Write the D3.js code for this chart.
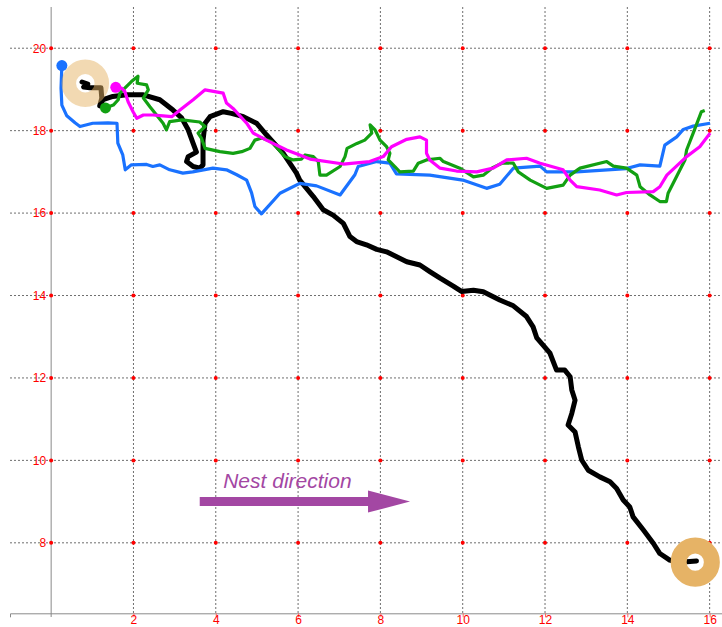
<!DOCTYPE html>
<html>
<head>
<meta charset="utf-8">
<script src="https://d3js.org/d3.v7.min.js"></script>
<style>
  body { margin: 0; background: #fff; }
  svg { display: block; font-family: "Liberation Sans", Arial, sans-serif; }
</style>
</head>
<body>
<div id="chart"></div>
<script>
// tick values
const xTicks = [2, 4, 6, 8, 10, 12, 14, 16];
const yTicks = [8, 10, 12, 14, 16, 18, 20];

// tracks, [x, y] in plot units
const blueTrack = [
  [0.26, 19.58], [0.24, 19.03], [0.26, 18.62], [0.38, 18.36], [0.58, 18.19], [0.70, 18.10],
  [1.01, 18.18], [1.38, 18.19], [1.60, 18.18], [1.62, 17.70], [1.74, 17.41], [1.80, 17.05],
  [1.95, 17.17], [2.32, 17.18], [2.47, 17.13], [2.64, 17.17], [2.88, 17.05], [3.20, 16.97],
  [3.44, 17.00], [3.93, 17.09], [4.26, 17.05], [4.51, 16.93], [4.75, 16.80], [4.87, 16.49],
  [4.95, 16.16], [5.11, 15.98], [5.56, 16.48], [6.04, 16.72], [6.45, 16.66], [7.02, 16.44],
  [7.38, 16.93], [7.46, 17.13], [7.91, 17.25], [8.23, 17.21], [8.39, 16.95], [9.20, 16.92],
  [10.0, 16.80], [10.58, 16.60], [10.90, 16.70], [11.23, 17.09], [11.88, 17.14], [12.04, 17.00],
  [12.77, 17.00], [13.98, 17.08], [14.31, 17.17], [14.79, 17.14], [14.91, 17.65], [15.20, 17.85],
  [15.36, 18.03], [15.60, 18.11], [16.01, 18.18]
];

const magentaTrack = [
  [1.57, 19.05], [1.71, 19.03], [1.79, 18.95], [1.87, 18.70], [1.99, 18.46], [2.08, 18.30],
  [2.24, 18.38], [2.48, 18.38], [2.72, 18.36], [2.93, 18.34], [3.13, 18.50], [3.45, 18.75],
  [3.74, 18.99], [4.18, 18.91], [4.26, 18.67], [4.42, 18.54], [4.75, 18.18], [4.91, 17.94],
  [5.23, 17.77], [5.72, 17.53], [6.29, 17.31], [7.10, 17.19], [7.74, 17.25], [8.07, 17.37],
  [8.27, 17.61], [8.64, 17.79], [8.96, 17.85], [9.12, 17.77], [9.12, 17.45], [9.20, 17.29],
  [9.45, 17.09], [9.85, 17.02], [10.34, 17.00], [10.74, 17.09], [11.07, 17.29], [11.55, 17.33],
  [11.88, 17.21], [12.44, 17.05], [12.61, 16.80], [12.77, 16.64], [13.33, 16.56], [13.74, 16.44],
  [13.98, 16.50], [14.63, 16.52], [14.79, 16.64], [14.96, 16.92], [15.44, 17.37], [15.76, 17.61],
  [16.01, 17.94]
];

const greenTrack = [
  [1.32, 18.55], [1.51, 18.62], [1.63, 18.75], [1.67, 18.91], [1.79, 19.03], [1.95, 19.19],
  [2.11, 19.32], [2.09, 19.15], [2.32, 19.11], [2.36, 18.99], [2.24, 18.79], [2.40, 18.58],
  [2.56, 18.38], [2.72, 18.18], [2.80, 18.02], [2.88, 18.22], [3.18, 18.26], [3.61, 18.21],
  [3.74, 18.10], [3.57, 17.94], [3.65, 17.82], [3.74, 17.57], [4.10, 17.49], [4.42, 17.45],
  [4.63, 17.49], [4.83, 17.57], [4.95, 17.77], [5.12, 17.82], [5.36, 17.73], [5.68, 17.37],
  [5.88, 17.29], [6.08, 17.31], [6.17, 17.41], [6.37, 17.37], [6.49, 17.25], [6.53, 16.92],
  [6.69, 16.92], [7.02, 17.13], [7.14, 17.37], [7.19, 17.57], [7.43, 17.69], [7.62, 17.77],
  [7.79, 17.94], [7.75, 18.14], [7.87, 18.02], [7.99, 17.77], [8.15, 17.61], [8.23, 17.45],
  [8.19, 17.29], [8.35, 17.13], [8.47, 17.00], [8.80, 17.02], [8.92, 17.21], [9.12, 17.29],
  [9.45, 17.33], [9.53, 17.25], [9.93, 17.09], [10.26, 16.88], [10.50, 16.92], [10.74, 17.11],
  [10.98, 17.22], [11.23, 17.21], [11.35, 17.00], [11.64, 16.80], [12.04, 16.60], [12.44, 16.68],
  [12.61, 16.92], [12.85, 17.09], [13.50, 17.25], [13.66, 17.14], [13.98, 17.09], [14.23, 16.92],
  [14.31, 16.64], [14.55, 16.44], [14.79, 16.28], [14.95, 16.28], [14.99, 16.48], [15.40, 17.29],
  [15.44, 17.53], [15.60, 17.94], [15.80, 18.46], [15.88, 18.49]
];

const blackTrack = [
  [0.75, 19.18], [0.89, 19.13], [0.79, 19.06], [0.94, 19.04], [1.21, 19.04], [1.23, 18.79],
  [1.18, 18.60], [1.26, 18.75], [1.50, 18.83], [1.83, 18.87], [2.24, 18.87], [2.64, 18.75],
  [2.96, 18.50], [3.17, 18.31], [3.33, 18.02], [3.45, 17.69], [3.53, 17.48], [3.33, 17.37],
  [3.29, 17.25], [3.45, 17.13], [3.61, 17.09], [3.69, 17.17], [3.69, 17.53], [3.69, 17.77],
  [3.74, 18.18], [3.86, 18.34], [4.18, 18.46], [4.38, 18.42], [4.67, 18.34], [4.99, 18.18],
  [5.23, 17.90], [5.64, 17.45], [5.96, 16.97], [6.04, 16.80], [6.37, 16.40], [6.61, 16.08],
  [6.85, 15.95], [7.10, 15.75], [7.26, 15.43], [7.42, 15.31], [7.66, 15.23], [7.91, 15.12],
  [8.15, 15.06], [8.64, 14.82], [8.96, 14.74], [9.20, 14.58], [9.45, 14.42], [9.77, 14.23],
  [9.97, 14.10], [10.26, 14.13], [10.50, 14.09], [10.90, 13.89], [11.23, 13.75], [11.55, 13.49],
  [11.71, 13.24], [11.80, 12.97], [12.12, 12.60], [12.28, 12.19], [12.48, 12.19], [12.61, 12.03],
  [12.65, 11.71], [12.73, 11.46], [12.65, 11.14], [12.56, 10.86], [12.73, 10.69], [12.81, 10.33],
  [12.89, 10.01], [13.05, 9.76], [13.33, 9.60], [13.58, 9.48], [13.74, 9.32], [13.90, 9.04],
  [14.06, 8.87], [14.14, 8.63], [14.39, 8.31], [14.63, 7.99], [14.79, 7.74], [15.03, 7.58],
  [15.28, 7.51], [15.44, 7.54], [15.68, 7.56]
];

// start / end markers
const startRing = [0.83, 19.15];
const endRing = [15.65, 7.53];
const arrowFrom = [3.61, 9.0];
const arrowTo = [8.72, 9.0];
const arrowLabel = "Nest direction";

const width = 722, height = 627;
const gridColor = "#6e6e6e";
const tickColor = "#ff0000";

const svg = d3.select("#chart").append("svg")
  .attr("width", width)
  .attr("height", height);

const x = d3.scaleLinear().domain([-1.0, 16.3]).range([10, 722]);
const y = d3.scaleLinear().domain([6.29, 21]).range([613.3, 7]);

// grid
const grid = svg.append("g");
grid.selectAll(".vg").data(xTicks).join("line")
  .attr("x1", d => x(d)).attr("x2", d => x(d))
  .attr("y1", y(21)).attr("y2", y(6.29))
  .attr("stroke", gridColor).attr("stroke-dasharray", "2,2");
grid.selectAll(".hg").data(yTicks).join("line")
  .attr("x1", x(-1)).attr("x2", x(16.3))
  .attr("y1", d => y(d)).attr("y2", d => y(d))
  .attr("stroke", gridColor).attr("stroke-dasharray", "2,2");

// axes
const xAxis = svg.append("g")
  .attr("transform", `translate(0,${y(6.29)})`)
  .call(d3.axisBottom(x).tickValues(xTicks).tickSize(4).tickPadding(0).tickFormat(d3.format("d")));
const yAxis = svg.append("g")
  .attr("transform", `translate(${x(0)},0)`)
  .call(d3.axisLeft(y).tickValues(yTicks).tickSize(0).tickPadding(5).tickFormat(d3.format("d")));

[xAxis, yAxis].forEach(a => {
  a.select(".domain").attr("stroke", "#8a8a8a");
  a.selectAll(".tick line").attr("stroke", "#ff6666");
  a.selectAll(".tick text").attr("fill", tickColor).style("font-size", "12px");
});
xAxis.selectAll(".tick text").attr("dy", "0.6em");
yAxis.select(".domain").attr("d", `M0,${y(6.2)}V${y(21)}`);

// red dots at grid crossings
const crossings = [];
[0].concat(xTicks).forEach(xv => yTicks.forEach(yv => crossings.push([xv, yv])));
svg.append("g").selectAll("circle").data(crossings).join("circle")
  .attr("cx", d => x(d[0])).attr("cy", d => y(d[1]))
  .attr("r", 2).attr("fill", "#ff0000");

const line = d3.line().x(d => x(d[0])).y(d => y(d[1]));

svg.append("path").datum(blackTrack)
  .attr("d", line).attr("fill", "none")
  .attr("stroke", "#000").attr("stroke-width", 5)
  .attr("stroke-linejoin", "round").attr("stroke-linecap", "round");

const tracks = [
  { data: blueTrack, color: "#1a72ff" },
  { data: greenTrack, color: "#12a012" },
  { data: magentaTrack, color: "#ff00ff" }
];
tracks.forEach(t => {
  svg.append("path").datum(t.data)
    .attr("d", line).attr("fill", "none")
    .attr("stroke", t.color).attr("stroke-width", 3.2)
    .attr("stroke-linejoin", "round");
});

// rings
svg.append("circle")
  .attr("cx", x(startRing[0])).attr("cy", y(startRing[1]))
  .attr("r", 16.5).attr("fill", "none")
  .attr("stroke", "#e6b366").attr("stroke-opacity", 0.5).attr("stroke-width", 14.5);
svg.append("circle")
  .attr("cx", x(endRing[0])).attr("cy", y(endRing[1]))
  .attr("r", 16.6).attr("fill", "none")
  .attr("stroke", "#e6b366").attr("stroke-width", 16);

// start dots
tracks.forEach(t => {
  svg.append("circle")
    .attr("cx", x(t.data[0][0])).attr("cy", y(t.data[0][1]))
    .attr("r", 5.5).attr("fill", t.color);
});

// nest direction arrow
const ax0 = x(arrowFrom[0]), ax1 = x(arrowTo[0]), ay = y(arrowFrom[1]);
const headLen = 42, shaft = 4.5, head = 11;
svg.append("path")
  .attr("d", `M${ax0},${ay - shaft}H${ax1 - headLen}V${ay - head}L${ax1},${ay}L${ax1 - headLen},${ay + head}V${ay + shaft}H${ax0}Z`)
  .attr("fill", "#a347a3");
svg.append("text")
  .attr("x", x(4.18)).attr("y", y(9.33))
  .attr("fill", "#a347a3")
  .style("font-size", "21px").style("font-style", "italic")
  .text(arrowLabel);
</script>
</body>
</html>
